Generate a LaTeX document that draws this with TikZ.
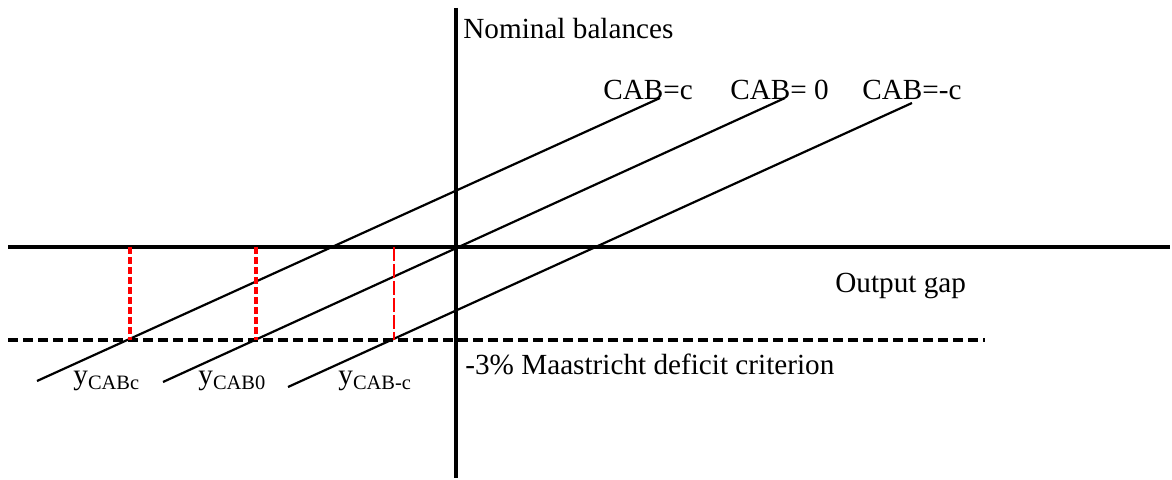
\documentclass[tikz,border=0pt]{standalone}
\usepackage{fontspec}
\setmainfont{Liberation Serif}
\begin{document}
\begin{tikzpicture}[x=0.5pt,y=-0.5pt,
  axis/.style={line width=1.9pt},
  budget/.style={line width=1.1pt},
  crit/.style={line width=2pt,dash pattern=on 5pt off 2.5pt},
  gapmark/.style={red,line width=2pt,dash pattern=on 3.5pt off 1.5pt},
  gapthin/.style={red,line width=1.2pt,dash pattern=on 7pt off 1.5pt},
  lbl/.style={inner sep=0pt,anchor=base west,font=\fontsize{14.6}{17}\selectfont}]
\useasboundingbox (0,0) rectangle (1172,480);
\coordinate (ytop) at (456,8);
\coordinate (ybot) at (456,478);
\coordinate (xl) at (8,247);
\coordinate (xr) at (1170,247);
\coordinate (cl) at (8,340);
\coordinate (cr) at (985,340);
\draw[axis] (ytop) -- (ybot);
\draw[axis] (xl) -- (xr);
\draw[crit] (cl) -- (cr);
\coordinate (c1a) at (37,381);
\coordinate (c1b) at (660,98);
\coordinate (c2a) at (163,382);
\coordinate (c2b) at (785,98);
\coordinate (c3a) at (288,387);
\coordinate (c3b) at (912,103);
\draw[budget] (c1a) -- (c1b);
\draw[budget] (c2a) -- (c2b);
\draw[budget] (c3a) -- (c3b);
\coordinate (g1t) at (130,247);
\coordinate (g1b) at (130,340);
\coordinate (g2t) at (256,247);
\coordinate (g2b) at (256,340);
\coordinate (g3t) at (394,247);
\coordinate (g3b) at (394,340);
\draw[gapmark] (g1t) -- (g1b);
\draw[gapmark] (g2t) -- (g2b);
\draw[gapthin] (g3t) -- (g3b);
\node[lbl] (nombal) at (463,39) {Nominal balances};
\node[lbl] (capc) at (603,100) {CAB=c};
\node[lbl] (capz) at (730,100) {CAB= 0};
\node[lbl] (capm) at (862,100) {CAB=-c};
\node[lbl] (outgap) at (835,293) {Output gap};
\node[lbl] (maas) at (465,375) {-3\% Maastricht deficit criterion};
\node[lbl] (yc) at (73,385) {y\textsubscript{CABc}};
\node[lbl] (yz) at (198,385) {y\textsubscript{CAB0}};
\node[lbl] (ym) at (338,385) {y\textsubscript{CAB-c}};
\end{tikzpicture}
\end{document}
